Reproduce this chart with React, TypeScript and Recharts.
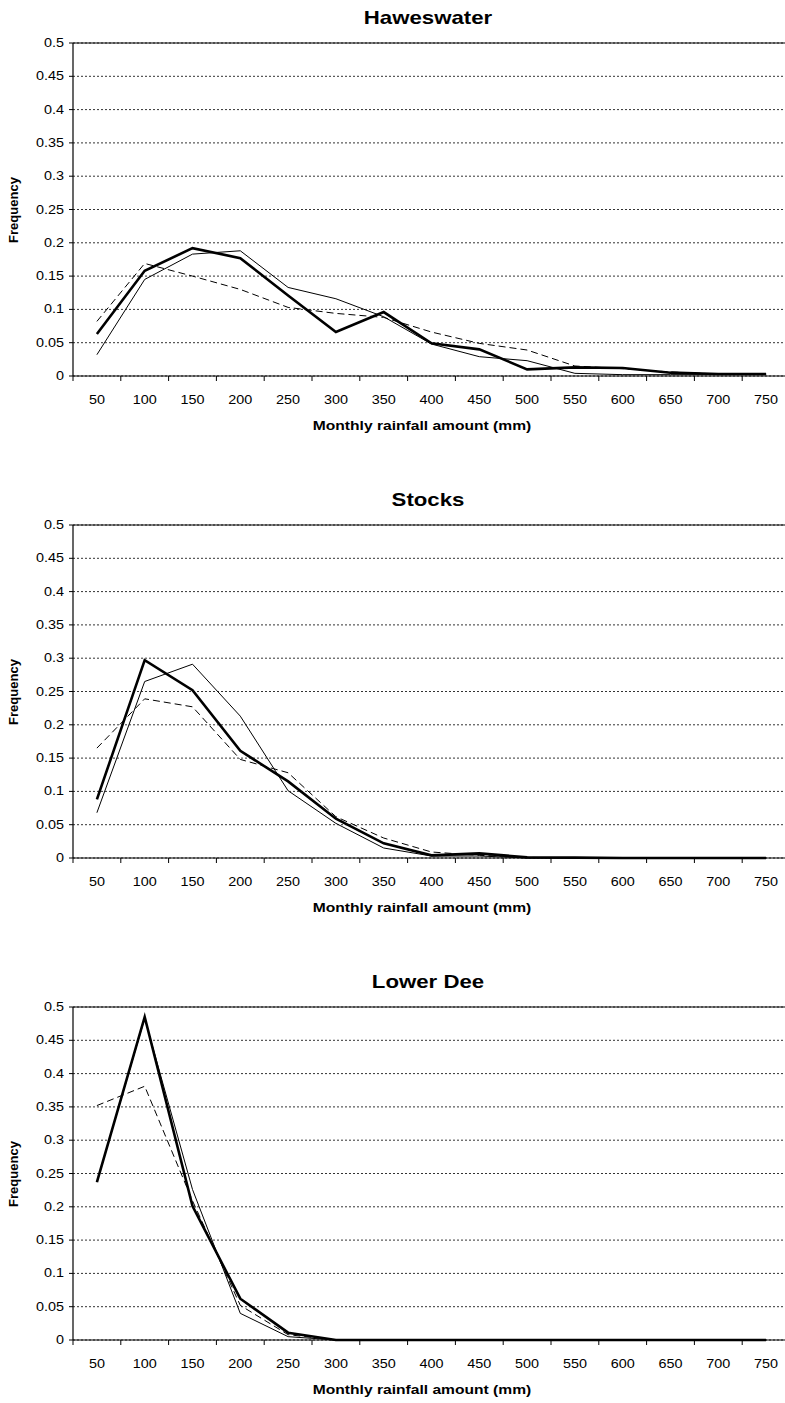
import React from "react";
import {
  LineChart,
  Line,
  XAxis,
  YAxis,
  CartesianGrid,
  ReferenceLine,
} from "recharts";

const RAINFALL_BINS = [
  "50", "100", "150", "200", "250", "300", "350", "400",
  "450", "500", "550", "600", "650", "700", "750",
];

const FREQ_TICKS = [0, 0.05, 0.1, 0.15, 0.2, 0.25, 0.3, 0.35, 0.4, 0.45, 0.5];

// Haweswater
const haweswaterBold = [0.063, 0.158, 0.192, 0.177, 0.121, 0.066, 0.096, 0.049, 0.04, 0.01, 0.013, 0.012, 0.005, 0.003, 0.003];
const haweswaterThin = [0.032, 0.145, 0.183, 0.188, 0.133, 0.116, 0.089, 0.048, 0.029, 0.023, 0.004, 0.002, 0.002, 0.002, 0.002];
const haweswaterDashed = [0.082, 0.169, 0.15, 0.13, 0.103, 0.094, 0.088, 0.066, 0.049, 0.039, 0.015, 0.011, 0.006, 0.003, 0.003];

// Stocks
const stocksBold = [0.088, 0.297, 0.252, 0.161, 0.115, 0.059, 0.022, 0.004, 0.007, 0.001, 0.0005, 0, 0, 0, 0];
const stocksThin = [0.068, 0.265, 0.291, 0.213, 0.101, 0.052, 0.015, 0.003, 0.003, 0, 0, 0, 0, 0, 0];
const stocksDashed = [0.165, 0.239, 0.227, 0.148, 0.128, 0.062, 0.03, 0.009, 0.004, 0.001, 0, 0, 0, 0, 0];

// Lower Dee
const lowerDeeBold = [0.237, 0.485, 0.201, 0.062, 0.011, 0, 0, 0, 0, 0, 0, 0, 0, 0, 0];
const lowerDeeThin = [0.237, 0.483, 0.226, 0.04, 0.005, 0, 0, 0, 0, 0, 0, 0, 0, 0, 0];
const lowerDeeDashed = [0.352, 0.381, 0.209, 0.052, 0.008, 0, 0, 0, 0, 0, 0, 0, 0, 0, 0];

const FONT = '"Liberation Sans", Arial, sans-serif';
const STRETCH = 1.2; // horizontal text is drawn a little wide
const CHART_W = 795;
const CHART_H = 482;
const Y_AXIS_W = 73;
const MARGIN = { top: 43, right: 5, bottom: 0, left: 0 };
const PLOT_H = 333;
const PLOT_W = CHART_W - MARGIN.right - Y_AXIS_W;
const HALF_BAND = PLOT_W / RAINFALL_BINS.length / 2;

type Row = { bin: string; bold: number; thin: number; dashed: number };

const buildRows = (bold: number[], thin: number[], dashed: number[]): Row[] =>
  RAINFALL_BINS.map((bin, i) => ({
    bin,
    bold: bold[i],
    thin: thin[i],
    dashed: dashed[i],
  }));

// label in the middle of the bin, tick mark on the bin boundary
const BinTick = (props: any) => {
  const { x, y, payload } = props;
  return (
    <g>
      <line x1={x - HALF_BAND} y1={y - 5} x2={x - HALF_BAND} y2={y} stroke="#000" />
      <text
        transform={`translate(${x},${y + 23}) scale(${STRETCH},1)`}
        textAnchor="middle"
        fontSize={12}
        fontFamily={FONT}
        fill="#000"
      >
        {payload.value}
      </text>
    </g>
  );
};

const FreqTick = (props: any) => {
  const { x, y, payload } = props;
  return (
    <text
      transform={`translate(${x},${y + 4}) scale(${STRETCH},1)`}
      textAnchor="end"
      fontSize={12}
      fontFamily={FONT}
      fill="#000"
    >
      {payload.value}
    </text>
  );
};

// centred bold text, stretched like the tick labels
const flatText = (size: number, centerX: number): React.CSSProperties => ({
  position: "absolute",
  left: centerX - 200,
  width: 400,
  textAlign: "center",
  fontFamily: FONT,
  fontWeight: "bold",
  fontSize: size,
  transform: `scaleX(${STRETCH})`,
});

function Panel({ title, top, rows }: { title: string; top: number; rows: Row[] }) {
  const plotBottom = MARGIN.top + PLOT_H;
  return (
    <div style={{ position: "absolute", left: 0, top, width: CHART_W, height: CHART_H }}>
      <div style={{ ...flatText(18.5, 428), top: 5, lineHeight: "26px" }}>{title}</div>
      <div
        style={{
          position: "absolute",
          left: 14 - 50,
          width: 100,
          top: MARGIN.top + PLOT_H / 2 - 8,
          lineHeight: "16px",
          textAlign: "center",
          fontFamily: FONT,
          fontWeight: "bold",
          fontSize: 13,
          transform: "rotate(-90deg)",
        }}
      >
        Frequency
      </div>
      <div style={{ ...flatText(13, 422), top: plotBottom + 50 - 8, lineHeight: "16px" }}>
        Monthly rainfall amount (mm)
      </div>
      <LineChart width={CHART_W} height={CHART_H} data={rows} margin={MARGIN}>
        <CartesianGrid vertical={false} stroke="#333" strokeDasharray="2 2" />
        <ReferenceLine y={0.5} stroke="#000" strokeWidth={1.2} />
        <XAxis
          dataKey="bin"
          height={CHART_H - MARGIN.top - PLOT_H}
          interval={0}
          padding={{ left: HALF_BAND, right: HALF_BAND }}
          tickLine={false}
          tickSize={5}
          tickMargin={0}
          tick={<BinTick />}
          axisLine={{ stroke: "#000", strokeWidth: 1.2 }}
        />
        <YAxis
          width={Y_AXIS_W}
          domain={[0, 0.5]}
          ticks={FREQ_TICKS}
          interval={0}
          tickSize={4}
          tickMargin={5}
          tickLine={{ stroke: "#000" }}
          axisLine={{ stroke: "#000", strokeWidth: 1.2 }}
          tick={<FreqTick />}
        />
        <Line
          type="linear"
          dataKey="dashed"
          stroke="#000"
          strokeWidth={1}
          strokeDasharray="7 4"
          dot={false}
          isAnimationActive={false}
        />
        <Line
          type="linear"
          dataKey="thin"
          stroke="#000"
          strokeWidth={1}
          dot={false}
          isAnimationActive={false}
        />
        <Line
          type="linear"
          dataKey="bold"
          stroke="#000"
          strokeWidth={2.6}
          dot={false}
          isAnimationActive={false}
        />
      </LineChart>
    </div>
  );
}

export default function App() {
  return (
    <div
      style={{
        position: "absolute",
        left: 0,
        top: 0,
        width: 785,
        height: 1403,
        overflow: "hidden",
        background: "#fff",
      }}
    >
      <Panel
        title="Haweswater"
        top={0}
        rows={buildRows(haweswaterBold, haweswaterThin, haweswaterDashed)}
      />
      <Panel
        title="Stocks"
        top={482}
        rows={buildRows(stocksBold, stocksThin, stocksDashed)}
      />
      <Panel
        title="Lower Dee"
        top={964}
        rows={buildRows(lowerDeeBold, lowerDeeThin, lowerDeeDashed)}
      />
    </div>
  );
}
